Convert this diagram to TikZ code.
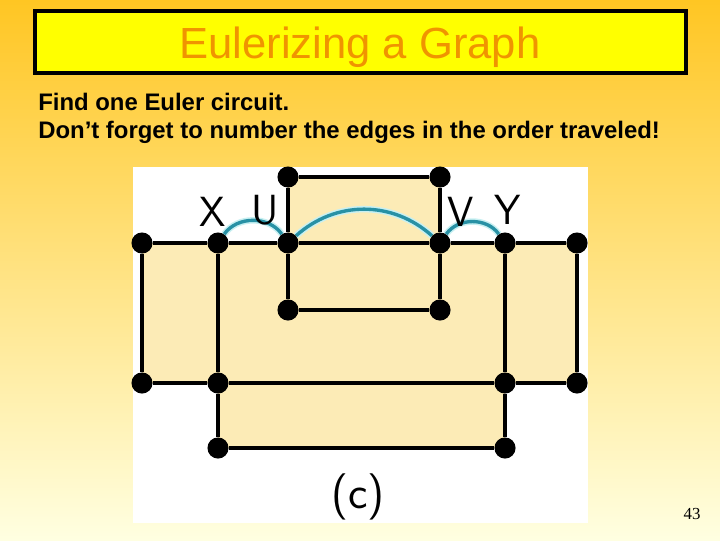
\documentclass[tikz,border=0pt]{standalone}
\usepackage{fontspec}
\setmainfont{Liberation Sans}
\newfontfamily\numfont{Liberation Serif}
\usepackage{xcolor}
\usepackage{tikz}
\usetikzlibrary{backgrounds,positioning}

\definecolor{bgtop}{RGB}{255,198,35}
\definecolor{bgbottom}{RGB}{255,255,225}
\definecolor{titleyellow}{RGB}{255,255,0}
\definecolor{titleorange}{RGB}{240,148,0}
\definecolor{facebeige}{RGB}{252,235,182}
\definecolor{arcteal}{RGB}{40,145,165}
\definecolor{arcglow}{RGB}{200,240,242}

\tikzset{
  vertex/.style={circle, fill=black, inner sep=0pt, minimum size=15pt},
  graphedge/.style={draw=black, line width=3pt},
  eulerarc/.style={draw=arcteal, line width=2.4pt,
    preaction={draw=arcglow, line width=4.6pt}},
  face/.style={fill=facebeige},
  titlebox/.style={draw=black, fill=titleyellow, line width=2.8pt,
    minimum width=16.275cm, minimum height=1.55cm, inner sep=0pt},
  titletext/.style={text=titleorange, font=\fontsize{31}{31}\selectfont, inner sep=0pt},
  bodytext/.style={font=\bfseries\fontsize{17}{17}\selectfont, inner sep=0pt},
  letter/.style={font=\sffamily\fontsize{30}{30}\selectfont, inner sep=0pt},
}

\begin{document}
\begin{tikzpicture}[x=0.025cm, y=-0.025cm]
  \useasboundingbox (0,0) rectangle (720,540);

  \node[titlebox] (tbox) at (360.5,42) {};
  \node[titletext, anchor=base] (title) at (360,58) {Eulerizing a Graph};
  \node[bodytext, anchor=base west] (find) at (38,110) {Find one Euler circuit.};
  \node[bodytext, below=20.5pt of find.base west, anchor=base west] (forget)
    {Don’t forget to number the edges in the order traveled!};

  \node[vertex] (ut) at (288,177) {};
  \node[vertex] (vt) at (440,177) {};
  \node[vertex] (l1) at (142,243) {};
  \node[vertex] (x)  at (218,243) {};
  \node[vertex] (u)  at (288,243) {};
  \node[vertex] (v)  at (440,243) {};
  \node[vertex] (y)  at (505,243) {};
  \node[vertex] (r1) at (577,243) {};
  \node[vertex] (ub) at (288,310) {};
  \node[vertex] (vb) at (440,310) {};
  \node[vertex] (l2) at (142,383) {};
  \node[vertex] (x2) at (218,383) {};
  \node[vertex] (y2) at (505,383) {};
  \node[vertex] (r2) at (577,383) {};
  \node[vertex] (x3) at (218,448) {};
  \node[vertex] (y3) at (505,448) {};

  \node[letter] (lx) at (213,212) {X};
  \node[letter] (lu) at (265,210) {U};
  \node[letter] (lv) at (461,212) {V};
  \node[letter] (ly) at (508,210) {Y};
  \node[letter, font=\sffamily\fontsize{33}{33}\selectfont] (cap) at (358,497) {(c)};
  \node[font=\numfont\fontsize{12}{12}\selectfont, inner sep=0pt] (num) at (692,514) {43};

  \begin{scope}[on background layer]
    \shade[top color=bgtop, bottom color=bgbottom] (0,0) rectangle (720,540);
    \fill[white] (133,167) rectangle (588,523);

    \fill[face] (ut.center) rectangle (v.center);
    \fill[face] (l1.center) rectangle (r2.center);
    \fill[face] (x2.center) rectangle (y3.center);

    \draw[titleorange, line width=1.4pt]
      ([yshift=-5pt]title.base west) -- ([yshift=-5pt]title.base east);

    \draw[graphedge] (ut) -- (vt);
    \draw[graphedge] (ut) -- (u);
    \draw[graphedge] (vt) -- (v);
    \draw[graphedge] (l1) -- (x);
    \draw[graphedge] (x) -- (u);
    \draw[graphedge] (u) -- (v);
    \draw[graphedge] (v) -- (y);
    \draw[graphedge] (y) -- (r1);
    \draw[graphedge] (u) -- (ub);
    \draw[graphedge] (v) -- (vb);
    \draw[graphedge] (ub) -- (vb);
    \draw[graphedge] (l1) -- (l2);
    \draw[graphedge] (x) -- (x2);
    \draw[graphedge] (x2) -- (x3);
    \draw[graphedge] (y) -- (y2);
    \draw[graphedge] (y2) -- (y3);
    \draw[graphedge] (r1) -- (r2);
    \draw[graphedge] (l2) -- (x2);
    \draw[graphedge] (x2) -- (y2);
    \draw[graphedge] (y2) -- (r2);
    \draw[graphedge] (x3) -- (y3);

    \draw[eulerarc] (x) to[out=55, in=125] (u);
    \draw[eulerarc] (u) to[out=42, in=138] (v);
    \draw[eulerarc] (v) to[out=55, in=125] (y);
  \end{scope}

\end{tikzpicture}
\end{document}
